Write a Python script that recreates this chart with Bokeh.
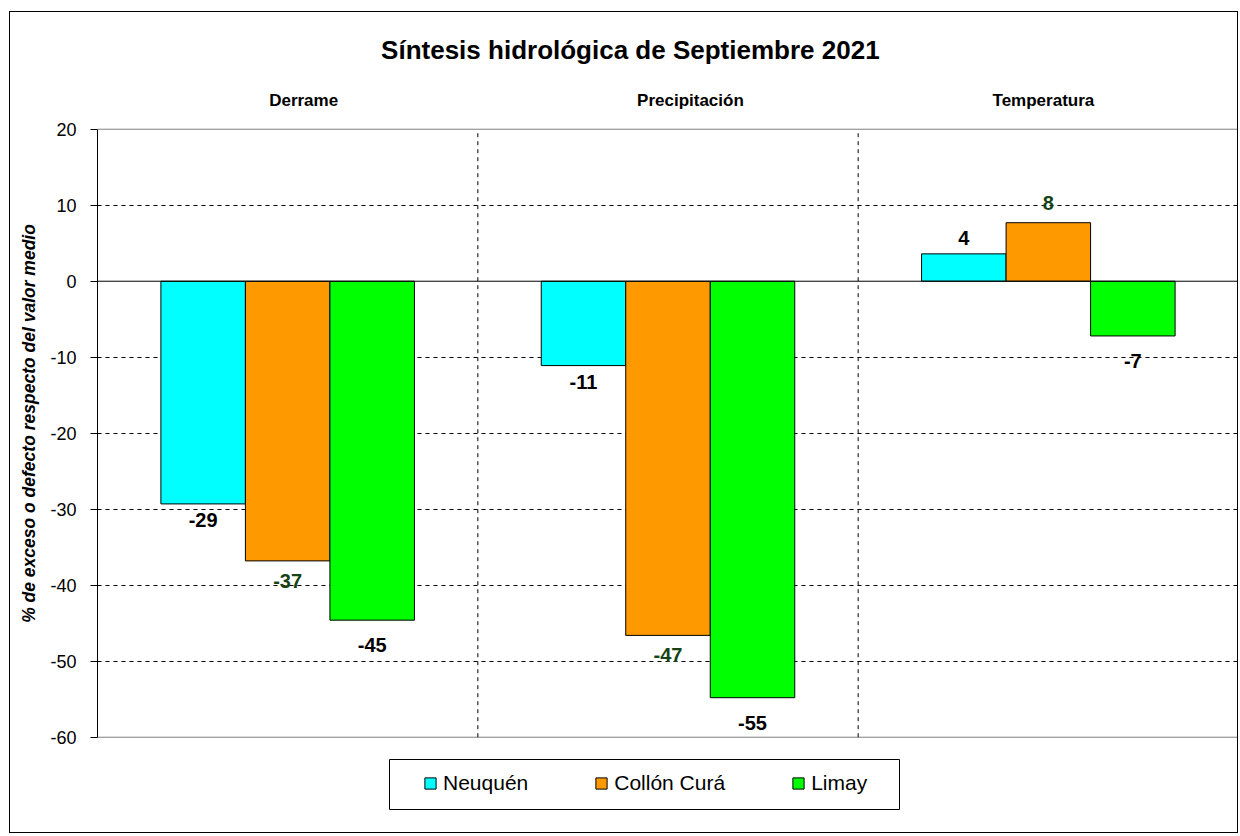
from bokeh.plotting import figure
from bokeh.models import (Range1d, Span, Legend, LegendItem, ColumnDataSource,
                          FixedTicker, PrintfTickFormatter, BoxAnnotation)
from bokeh.embed import file_html
from bokeh.resources import INLINE
from bokeh.core.properties import value

# ---------------- data ----------------
groups = ["Derrame", "Precipitación", "Temperatura"]
series = ["Neuquén", "Collón Curá", "Limay"]
neuquen = [-29.3, -11.1, 3.6]
collon_cura = [-36.8, -46.6, 7.7]
limay = [-44.6, -54.8, -7.2]
y_ticks = [-60, -50, -40, -30, -20, -10, 0, 10, 20]
title_text = "Síntesis hidrológica de Septiembre 2021"
y_label = "% de exceso o defecto respecto del valor medio"

# ---------------- styles / layout ----------------
FONT = "Liberation Sans"
colors = ["#00FFFF", "#FF9900", "#00FF00"]
label_colors = ["#000000", "#154315", "#000000"]
label_offsets = [16, 20, 25]
bar_w = 0.2222
bar_shift = [-bar_w, 0.0, bar_w]
header_x = [0.542, 1.559, 2.487]   # header positions (data x)
header_y = 23.84
title_pos = (1.401, 30.36)
y_lo, y_hi = -60, 20
view = (-72.8, 35.36)              # visible range incl. title & legend zones

p = figure(width=1229, height=822, output_backend="svg", toolbar_location=None,
           x_range=Range1d(0, 3), y_range=Range1d(*view),
           min_border_left=87, min_border_right=1, min_border_top=0,
           min_border_bottom=0)
p.margin = (11, 0, 0, 9)
p.styles = {"border": "1px solid black"}
p.title.visible = False
p.background_fill_color = "white"
p.border_fill_color = "white"
p.outline_line_color = None

p.xaxis.visible = False
p.xgrid.visible = False
p.ygrid.ticker = FixedTicker(ticks=[t for t in y_ticks if t not in (0, y_lo, y_hi)])
p.ygrid.grid_line_color = "#000000"
p.ygrid.grid_line_dash = "4 4"
p.ygrid.grid_line_width = 1

ax = p.yaxis[0]
ax.ticker = FixedTicker(ticks=y_ticks)
ax.formatter = PrintfTickFormatter(format="%d")
ax.bounds = (y_lo, y_hi)
ax.axis_line_color = "black"
ax.major_tick_out = 7
ax.major_tick_in = 0
ax.major_tick_line_color = "black"
ax.minor_tick_out = 0
ax.minor_tick_in = 0
ax.major_label_standoff = 14
ax.major_label_text_font = FONT
ax.major_label_text_font_size = "18px"
ax.major_label_text_color = "black"
ax.axis_label = y_label
ax.axis_label_text_font = FONT
ax.axis_label_text_font_size = "17.5px"
ax.axis_label_text_font_style = "bold italic"
ax.axis_label_text_color = "black"
ax.axis_label_standoff = 8

# plot-area border (grey) and separators between groups
p.quad(left=0, right=3, bottom=y_lo, top=y_hi, fill_color=None,
       line_color="#808080", line_width=1)
p.segment(x0=[1, 2], x1=[1, 2], y0=y_lo, y1=y_hi, line_color="black",
          line_dash="4 4", line_width=1)

items = []
vals = [neuquen, collon_cura, limay]
centers = [i + 0.5 for i in range(len(groups))]
for k, (name, v) in enumerate(zip(series, vals)):
    xs = [c + bar_shift[k] for c in centers]
    src = ColumnDataSource(dict(x=xs, top=v,
                                lab=[str(int(round(t))) for t in v],
                                yo=[label_offsets[k] if t < 0 else -label_offsets[k] for t in v]))
    r = p.vbar(x="x", top="top", bottom=0, width=bar_w, source=src,
               fill_color=colors[k], line_color="black", line_width=1)
    items.append(LegendItem(label=name, renderers=[r]))
    p.text(x="x", y="top", text="lab", y_offset="yo", source=src,
           text_align="center", text_baseline="middle",
           text_font=value(FONT), text_font_size="20px", text_font_style="bold",
           text_color=label_colors[k])

p.add_layout(Span(location=0, dimension="width", line_color="black", line_width=1))

# title and group headers
p.text(x=[title_pos[0]], y=[title_pos[1]], text=[title_text], text_align="center",
       text_baseline="middle", text_font=value(FONT), text_font_size="26px",
       text_font_style="bold", text_color="black")
p.text(x=header_x, y=[header_y] * 3, text=groups, text_align="center",
       text_baseline="middle", text_font=value(FONT), text_font_size="17px",
       text_font_style="bold", text_color="black")

# legend frame (canvas pixels) and legend
p.add_layout(BoxAnnotation(left=378, right=888, top=746, bottom=796,
                           left_units="canvas", right_units="canvas",
                           top_units="canvas", bottom_units="canvas",
                           fill_color="white", fill_alpha=1,
                           line_color="black", line_alpha=1, line_width=1))
legend = Legend(items=items, orientation="horizontal", location=(326, 39),
                border_line_color=None, background_fill_alpha=0,
                label_text_font=FONT, label_text_font_size="21px",
                label_text_color="black",
                glyph_width=14, glyph_height=14, label_standoff=6,
                spacing=66, padding=0, margin=0)
p.add_layout(legend, "center")

open("out.html", "w").write(file_html(p, INLINE))
